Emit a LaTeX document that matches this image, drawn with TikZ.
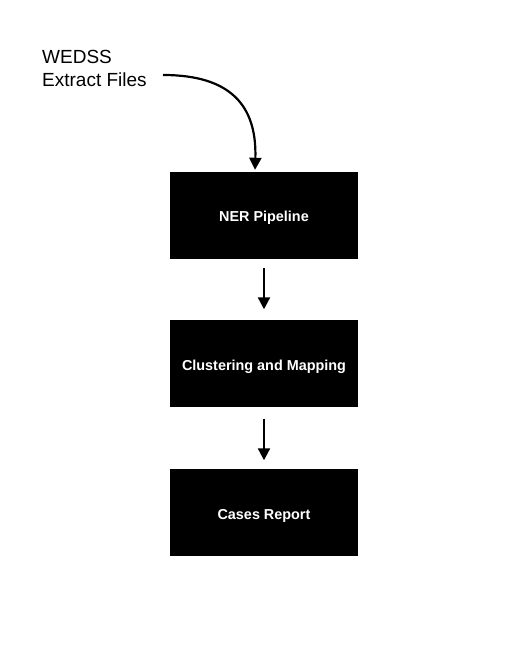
\documentclass[tikz,border=0pt]{standalone}
\usepackage{fontspec}
\setmainfont{Liberation Sans}
\usetikzlibrary{arrows.meta}
\begin{document}
\begin{tikzpicture}[x=1pt,y=1pt,
  stagebox/.style={fill=black,draw=none,minimum width=188pt,minimum height=87pt,inner sep=0pt,
    text height=12.3pt,text depth=0pt,
    text=white,font=\fontsize{14.4}{17}\selectfont\bfseries},
  flowarrow/.style={line width=2.2pt,-{Triangle[width=12pt,length=12pt]}}]
\useasboundingbox (0,0) rectangle (525,659);
\node[anchor=north west,inner sep=0pt,align=left,font=\fontsize{19}{23}\selectfont] (src) at (42,609) {WEDSS\\Extract Files};
\coordinate (srcend) at (163,584);
\node[stagebox] (ner) at (264,443.5) {NER Pipeline};
\node[stagebox] (clu) at (264,295) {Clustering and Mapping};
\node[stagebox] (rep) at (264,146) {Cases Report};
\draw[flowarrow] (srcend) .. controls (230,584) and (257,554) .. ([xshift=-9pt,yshift=2pt]ner.north);
\draw[flowarrow,shorten <=9pt,shorten >=11pt] (ner.south) -- (clu.north);
\draw[flowarrow,shorten <=11pt,shorten >=9pt] (clu.south) -- (rep.north);
\end{tikzpicture}
\end{document}
